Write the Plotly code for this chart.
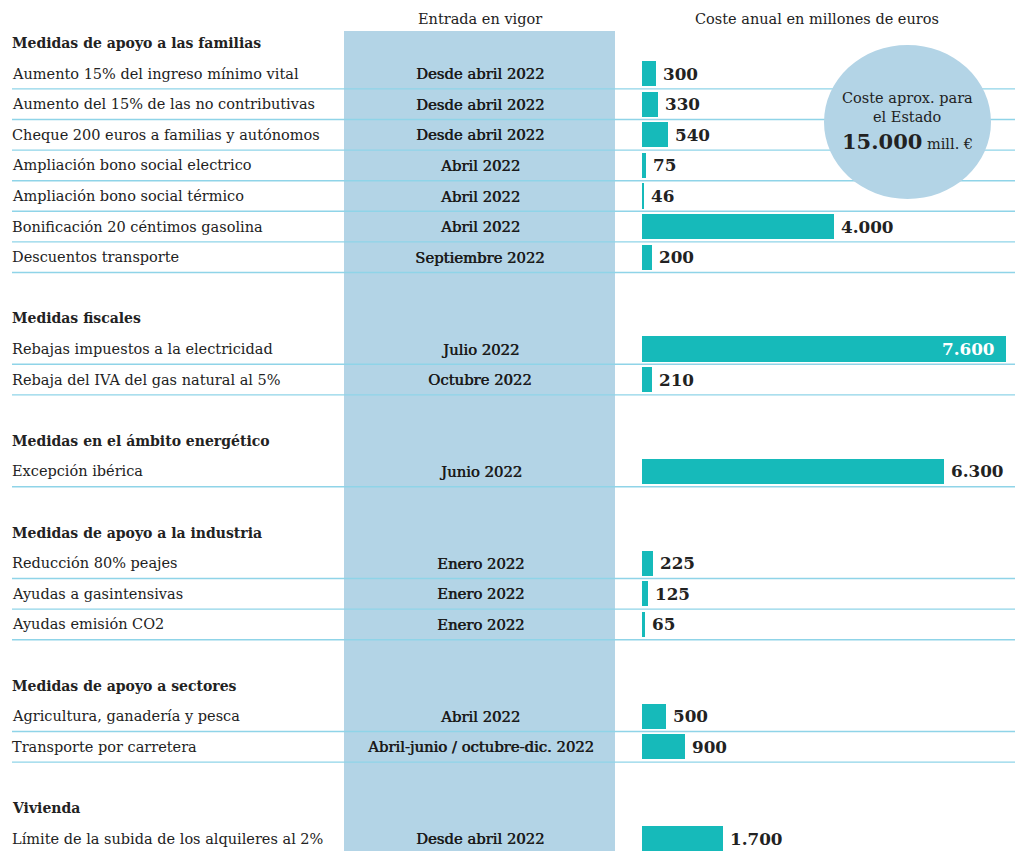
import plotly.graph_objects as go

W, H = 1019, 851

group_titles = [
    "Medidas de apoyo a las familias",
    "Medidas fiscales",
    "Medidas en el ámbito energético",
    "Medidas de apoyo a la industria",
    "Medidas de apoyo a sectores",
    "Vivienda",
]
group_sizes = [7, 2, 1, 3, 2, 1]

measures = [
    "Aumento 15% del ingreso mínimo vital",
    "Aumento del 15% de las no contributivas",
    "Cheque 200 euros a familias y autónomos",
    "Ampliación bono social electrico",
    "Ampliación bono social térmico",
    "Bonificación 20 céntimos gasolina",
    "Descuentos transporte",
    "Rebajas impuestos a la electricidad",
    "Rebaja del IVA del gas natural al 5%",
    "Excepción ibérica",
    "Reducción 80% peajes",
    "Ayudas a gasintensivas",
    "Ayudas emisión CO2",
    "Agricultura, ganadería y pesca",
    "Transporte por carretera",
    "Límite de la subida de los alquileres al 2%",
]
start_dates = [
    "Desde abril 2022", "Desde abril 2022", "Desde abril 2022",
    "Abril 2022", "Abril 2022", "Abril 2022", "Septiembre 2022",
    "Julio 2022", "Octubre 2022",
    "Junio 2022",
    "Enero 2022", "Enero 2022", "Enero 2022",
    "Abril 2022", "Abril-junio / octubre-dic. 2022",
    "Desde abril 2022",
]
costs = [300, 330, 540, 75, 46, 4000, 200, 7600, 210, 6300, 225, 125, 65, 500, 900, 1700]

header_left = "Entrada en vigor"
header_right = "Coste anual en millones de euros"
total_lines = ["Coste aprox. para", "el Estado"]
total_value = 15000

# ---- layout constants (pixels) ----
ROW = 30.6
TOP = 43.0
FONT = "DejaVu Serif"
TXT = "#222222"
TEAL = "#16baba"
PALE = "#b3d4e6"
LINE = "#8fd4e8"
BAR_X0, BAR_X1 = 642, 1006

def px(x):
    return x / W

def py(y):
    return 1 - y / H

# slot positions
header_slots, row_slots = [], []
k = 0
for n in group_sizes:
    header_slots.append(k)
    k += 1
    for _ in range(n):
        row_slots.append(k)
        k += 1
    k += 1

y_top = -TOP / ROW
y_bot = (H - TOP) / ROW

def fmt(v):
    return f"{v:,}".replace(",", ".")

fig = go.Figure()
fig.add_trace(go.Bar(
    x=costs, y=row_slots, orientation="h",
    marker=dict(color=TEAL, line=dict(width=0)),
    width=0.82, hoverinfo="skip",
))

shapes = []
# pale column
shapes.append(dict(type="rect", xref="paper", yref="paper",
                   x0=px(344), x1=px(615), y0=0, y1=py(31),
                   fillcolor=PALE, line=dict(width=0), layer="below"))
# separators
for s in row_slots:
    shapes.append(dict(type="line", xref="paper", yref="y",
                       x0=px(12), x1=px(1015), y0=s + 0.5, y1=s + 0.5,
                       line=dict(color=LINE, width=1.4), layer="above"))
# total circle
shapes.append(dict(type="circle", xref="paper", yref="paper",
                   x0=px(824), x1=px(991), y0=py(199), y1=py(45),
                   fillcolor=PALE, line=dict(width=0), layer="above"))

ann = []
def add_text(text, x, y, size, xanchor="center", xref="paper", yref="paper",
             color=TXT, xshift=0, shadow=None):
    f = dict(family=FONT, size=size, color=color)
    if shadow:
        f["shadow"] = shadow
    ann.append(dict(text=text, xref=xref, yref=yref, x=x, y=y, showarrow=False,
                    font=f, xanchor=xanchor, yanchor="middle", xshift=xshift))

add_text(header_left, px(480), py(19), 14.5)
add_text(header_right, px(817), py(19), 14.5)

for t, s in zip(group_titles, header_slots):
    add_text("<b>" + t + "</b>", px(12), s, 14, xanchor="left", yref="y", xshift=-2)

for m, d, v, s in zip(measures, start_dates, costs, row_slots):
    add_text(m, px(12), s, 14.5, xanchor="left", yref="y", xshift=-2)
    add_text(d, px(480), s, 14.8, yref="y", color="#1a1a1a",
             shadow="0.6px 0px 0px #1a1a1a")
    inside = v == max(costs)
    add_text("<b>" + fmt(v) + "</b>", v, s, 16.8,
             xanchor="right" if inside else "left", xref="x", yref="y",
             color="white" if inside else TXT, xshift=-9 if inside else 5)

add_text(total_lines[0], px(907), py(98), 14.5)
add_text(total_lines[1], px(907), py(117), 14.5)
add_text("<b><span style='font-size:21px'>" + fmt(total_value) + "</span></b> mill. €",
         px(907), py(142), 14.5)

fig.update_layout(
    width=W, height=H,
    margin=dict(l=0, r=0, t=0, b=0),
    paper_bgcolor="white", plot_bgcolor="rgba(0,0,0,0)",
    showlegend=False, bargap=0,
    xaxis=dict(domain=[px(BAR_X0), px(BAR_X1)], range=[0, max(costs)],
               visible=False, fixedrange=True),
    yaxis=dict(domain=[0, 1], range=[y_bot, y_top], visible=False, fixedrange=True),
    shapes=shapes, annotations=ann,
)

fig.write_html("out.html", config={"displayModeBar": False},
               post_script="document.body.style.margin='0';document.body.style.overflow='hidden';")
